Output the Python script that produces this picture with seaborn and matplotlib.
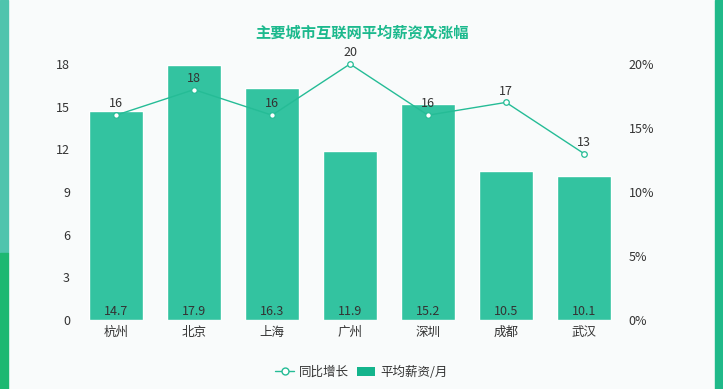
import numpy as np
import matplotlib
matplotlib.use("Agg")
import matplotlib.pyplot as plt
from matplotlib.lines import Line2D
from matplotlib.patches import Patch, Rectangle
import seaborn as sns

cities = ["杭州", "北京", "上海", "广州", "深圳", "成都", "武汉"]
salary = [14.7, 17.9, 16.3, 11.9, 15.2, 10.5, 10.1]
growth = [16, 18, 16, 20, 16, 17, 13]
left_ticks = [0, 3, 6, 9, 12, 15, 18]
right_ticks = [0, 5, 10, 15, 20]
title = "主要城市互联网平均薪资及涨幅"

sns.set_theme(style="white")
plt.rcParams["font.family"] = ["Noto Sans CJK SC", "DejaVu Sans"]

bar_color = "#33c3a0"
line_color = "#25bc96"
text_color = "#333333"

fig = plt.figure(figsize=(7.23, 3.89), dpi=100)
fig.patch.set_facecolor("#f9fbfb")

# decorative side stripes
fig.add_artist(Rectangle((0, 1 - 253/389), 8/723, 253/389, transform=fig.transFigure, color="#4fc4ad", zorder=0))
fig.add_artist(Rectangle((0, 0), 8/723, 1 - 253/389, transform=fig.transFigure, color="#1db872", zorder=0))
fig.add_artist(Rectangle((715/723, 0), 8/723, 1, transform=fig.transFigure, color="#20b989", zorder=0))

ax = fig.add_axes([77/723, 1 - 320/389, 546/723, 256/389])
ax.set_facecolor("none")
df_pos = np.arange(len(cities))
sns.barplot(x=cities, y=salary, color=bar_color, saturation=1, width=0.68, ax=ax, zorder=2)
ax.set_ylim(0, 18)
ax.set_yticks(left_ticks)
ax.set_yticklabels([str(t) for t in left_ticks], fontsize=9, color=text_color)
ax.tick_params(axis="y", length=0, pad=5)
ax.tick_params(axis="x", length=0, pad=4, labelsize=9, labelcolor=text_color)
ax.set_xlabel("")
ax.set_ylabel("")
for s in ax.spines.values():
    s.set_visible(False)
for i, v in enumerate(salary):
    ax.annotate(f"{v}", (i, 0), xytext=(0, 8.5), textcoords="offset pixels",
                ha="center", va="center", fontsize=9, color=text_color, zorder=5)

ax2 = ax.twinx()
ax2.set_facecolor("none")
sns.lineplot(x=df_pos, y=[g / 100 for g in growth], ax=ax2, color=line_color, linewidth=1.0,
             marker="o", markersize=4, markerfacecolor="white", markeredgecolor=line_color,
             markeredgewidth=0.9, zorder=4, clip_on=False)
ax2.set_ylim(0, 0.20)
ax2.set_yticks([t / 100 for t in right_ticks])
ax2.set_yticklabels([f"{t}%" for t in right_ticks], fontsize=9, color=text_color)
ax2.tick_params(axis="y", length=0, pad=4)
ax2.set_ylabel("")
for s in ax2.spines.values():
    s.set_visible(False)
for i, g in enumerate(growth):
    ax2.annotate(f"{g}", (i, g / 100), xytext=(0, 3.5), textcoords="offset points",
                 ha="center", va="bottom", fontsize=9, color=text_color)
ax.set_xlim(-0.5, len(cities) - 0.5)

fig.text(0.5, 1 - 33/389, title, ha="center", va="center", fontsize=11,
         fontweight="bold", color="#1cb98d")

handles = [
    Line2D([0], [0], color=line_color, linewidth=1.0, marker="o", markersize=5,
           markerfacecolor="white", markeredgecolor=line_color),
    Patch(facecolor="#14b48c", edgecolor="none"),
]
fig.legend(handles, ["同比增长", "平均薪资/月"], loc="center", bbox_to_anchor=(0.5, 1 - 372/389),
           ncol=2, frameon=False, fontsize=9, handlelength=1.5, handletextpad=0.4,
           columnspacing=0.6, labelcolor=text_color)

fig.savefig("out.png", dpi=100, facecolor=fig.get_facecolor())
